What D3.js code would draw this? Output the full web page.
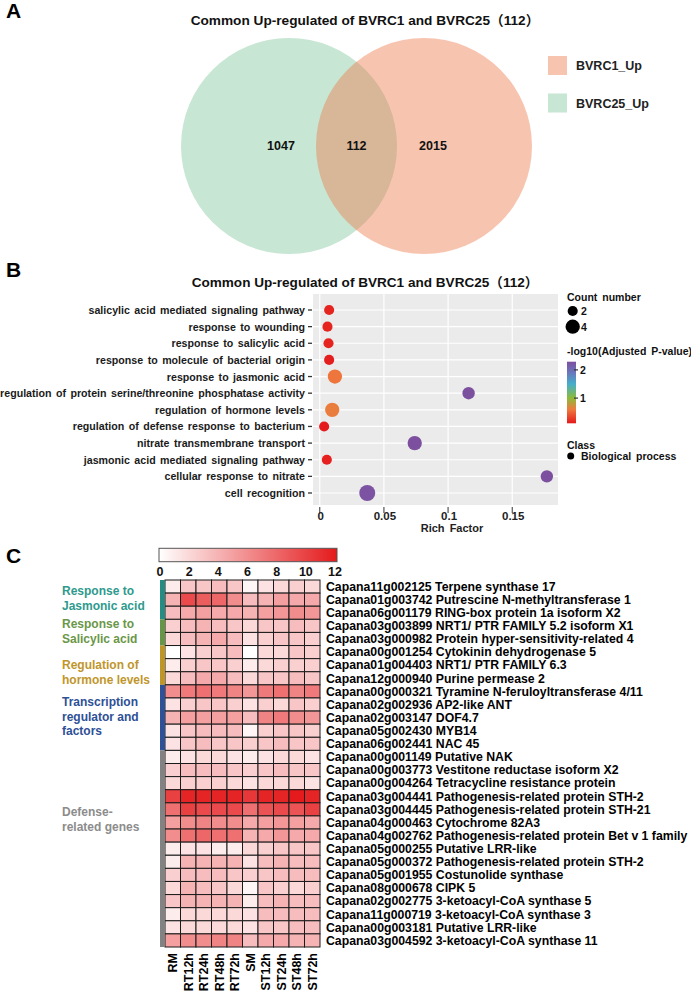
<!DOCTYPE html>
<html><head><meta charset="utf-8">
<script src="https://cdn.jsdelivr.net/npm/d3@7"></script>
<style>
body{margin:0;background:#fff}
svg{display:block}
text{font-family:"Liberation Sans",Arial,"Noto Sans CJK SC",sans-serif;font-weight:bold}
</style>
</head><body>
<svg id="fig" width="691" height="992" fill="#111"></svg>
<script>
// ---------------- DATA ----------------
const chartTitle = "Common Up-regulated of BVRC1 and BVRC25（112）";
// Venn
const vennSets = ["BVRC25_Up", "BVRC1_Up"];
const vennRegions = ["BVRC25 only", "both", "BVRC1 only"];
const vennValues = [1047, 112, 2015];
const legendSets = ["BVRC1_Up", "BVRC25_Up"];

// GO dot plot
const goTerms = [
  "salicylic acid mediated signaling pathway",
  "response to wounding",
  "response to salicylic acid",
  "response to molecule of bacterial origin",
  "response to jasmonic acid",
  "regulation of protein serine/threonine phosphatase activity",
  "regulation of hormone levels",
  "regulation of defense response to bacterium",
  "nitrate transmembrane transport",
  "jasmonic acid mediated signaling pathway",
  "cellular response to nitrate",
  "cell recognition"
];
const richFactor = [0.0073, 0.0060, 0.0068, 0.0073, 0.0118, 0.1160, 0.0097, 0.0034, 0.0740, 0.0055, 0.1770, 0.0370];
const geneCount  = [2, 2, 2, 2, 4, 3, 4, 2, 4, 2, 3, 5];
const negLog10P  = [0.16, 0.16, 0.16, 0.13, 0.58, 2.29, 0.62, 0.107, 2.29, 0.14, 2.29, 2.25];
const richTicks = [0, 0.05, 0.1, 0.15];
const countLegend = [2, 4];
const pTicks = [1, 2];
const className = "Biological process";

// Heatmap
const samples = ["RM","RT12h","RT24h","RT48h","RT72h","SM","ST12h","ST24h","ST48h","ST72h"];
const geneIds = ["Capana11g002125","Capana01g003742","Capana06g001179","Capana03g003899","Capana03g000982",
  "Capana00g001254","Capana01g004403","Capana12g000940","Capana00g000321","Capana02g002936","Capana02g003147",
  "Capana05g002430","Capana06g002441","Capana00g001149","Capana00g003773","Capana00g004264","Capana03g004441",
  "Capana03g004445","Capana04g000463","Capana04g002762","Capana05g000255","Capana05g000372","Capana05g001955",
  "Capana08g000678","Capana02g002775","Capana11g000719","Capana00g003181","Capana03g004592"];
const geneNames = ["Terpene synthase 17","Putrescine N-methyltransferase 1","RING-box protein 1a isoform X2",
  "NRT1/ PTR FAMILY 5.2 isoform X1","Protein hyper-sensitivity-related 4","Cytokinin dehydrogenase 5",
  "NRT1/ PTR FAMILY 6.3","Purine permease 2","Tyramine N-feruloyltransferase 4/11","AP2-like ANT","DOF4.7",
  "MYB14","NAC 45","Putative NAK","Vestitone reductase isoform X2","Tetracycline resistance protein",
  "Pathogenesis-related protein STH-2","Pathogenesis-related protein STH-21","Cytochrome 82A3",
  "Pathogenesis-related protein Bet v 1 family","Putative LRR-like","Pathogenesis-related protein STH-2",
  "Costunolide synthase","CIPK 5","3-ketoacyl-CoA synthase 5","3-ketoacyl-CoA synthase 3","Putative LRR-like",
  "3-ketoacyl-CoA synthase 11"];
const expr = [
  [1.0,3.0,3.0,3.5,3.0,0.5,1.5,2.0,2.5,2.0],
  [4.0,9.5,8.5,8.0,6.0,3.5,4.0,5.0,4.5,4.5],
  [3.5,4.5,5.0,4.5,4.5,4.0,5.0,5.5,6.0,5.5],
  [2.5,3.5,4.0,3.5,3.0,2.0,3.0,3.0,3.5,3.0],
  [2.0,3.5,4.0,4.5,3.5,1.5,2.5,3.0,3.0,2.5],
  [0.0,1.5,2.5,3.0,3.5,0.0,2.0,2.0,3.0,2.5],
  [1.0,2.5,3.0,3.0,2.5,1.0,2.0,2.5,2.5,2.5],
  [2.0,3.5,4.5,4.5,3.5,2.0,3.0,3.0,3.5,3.0],
  [6.0,7.0,7.5,7.0,6.5,5.5,7.0,7.5,6.5,7.0],
  [1.5,2.5,3.0,3.0,2.5,1.5,2.5,2.0,3.0,2.5],
  [4.0,5.0,5.0,5.0,5.0,3.5,6.5,7.0,6.0,5.5],
  [1.5,3.0,3.5,3.5,3.5,0.5,2.5,3.0,3.0,2.5],
  [1.5,3.0,3.5,3.0,3.0,2.5,3.0,3.5,3.0,3.0],
  [1.0,1.5,2.0,2.0,1.5,1.0,1.5,2.0,2.0,1.5],
  [2.5,3.5,3.5,3.5,3.0,2.5,3.0,3.5,3.0,3.0],
  [2.0,2.5,2.5,2.5,2.0,1.5,2.0,2.0,2.0,1.5],
  [10.0,11.5,11.5,11.5,11.5,10.5,11.5,11.5,12.0,11.5],
  [7.5,10.0,9.5,9.5,9.5,7.5,9.0,9.5,9.0,10.0],
  [5.0,6.0,6.5,6.0,6.0,4.5,5.0,5.5,5.0,4.5],
  [6.0,7.5,8.0,7.5,7.5,4.0,4.5,5.5,4.5,4.5],
  [1.0,1.5,1.5,1.0,1.0,2.0,2.5,3.0,3.0,3.0],
  [1.0,4.0,4.0,4.0,4.0,1.5,3.5,4.0,3.5,3.5],
  [2.5,3.5,3.5,3.5,3.0,2.5,3.0,3.5,3.5,3.5],
  [2.0,4.0,3.5,3.0,2.0,0.5,3.0,2.5,2.0,2.5],
  [3.0,4.0,4.0,4.0,4.0,1.0,3.5,4.0,3.5,3.5],
  [1.0,2.0,2.0,2.0,2.0,1.5,3.5,3.5,3.5,3.5],
  [1.5,2.0,2.0,2.0,2.0,1.5,3.0,3.0,3.5,3.5],
  [5.0,6.0,6.0,6.5,6.5,3.5,4.5,4.5,4.0,4.0]
];
const heatTicks = [0, 2, 4, 6, 8, 10, 12];
const groupLabels = [["Response to","Jasmonic acid"],["Response to","Salicylic acid"],["Regulation of","hormone levels"],
  ["Transcription","regulator and","factors"],["Defense-","related genes"]];
const groupSizes = [3, 2, 3, 5, 15];

// ---------------- DRAW ----------------
const svg = d3.select("#fig");

function fit(sel, target) {
  const w = d3.max(sel.nodes(), n => n.getComputedTextLength());
  const fs = parseFloat(sel.attr("font-size"));
  sel.attr("font-size", fs * target / w);
}

// panel letters
[["A", 18], ["B", 277], ["C", 563]].forEach(([t, y]) =>
  svg.append("text").attr("x", 6).attr("y", y).attr("font-size", 21).attr("fill", "#000").text(t));

// ===== Panel A: Venn =====
const tA = svg.append("text").attr("x", 365).attr("y", 25).attr("text-anchor", "middle")
  .attr("font-size", 13).text(chartTitle);
fit(tA, 349);

const vx = d3.scalePoint().domain(vennSets).range([289, 424]);
const vennFill = {"BVRC25_Up": "#C7E6D3", "BVRC1_Up": "rgba(238,124,80,0.45)"};
const vennCy = 146, vennR = 108;
svg.append("g").selectAll("circle").data(vennSets).join("circle")
  .attr("cx", d => vx(d)).attr("cy", vennCy).attr("r", vennR)
  .attr("fill", d => vennFill[d]);
const regionX = [vx(vennSets[0]) - 8, (vx(vennSets[0]) + vx(vennSets[1])) / 2, vx(vennSets[1]) + 9];
svg.append("g").selectAll("text").data(vennValues).join("text")
  .attr("x", (d, i) => regionX[i]).attr("y", vennCy + 4).attr("text-anchor", "middle")
  .attr("font-size", 12.5).text(d => d);

const legFill = {"BVRC1_Up": "#F7C4B0", "BVRC25_Up": "#C7E6D3"};
const ly = d3.scalePoint().domain(legendSets).range([56, 93.5]);
svg.append("g").selectAll("rect").data(legendSets).join("rect")
  .attr("x", 548).attr("y", d => ly(d)).attr("width", 19).attr("height", 19).attr("fill", d => legFill[d]);
svg.append("g").selectAll("text").data(legendSets).join("text")
  .attr("x", 576).attr("y", d => ly(d) + 14).attr("font-size", 12.5).attr("fill", "#222").text(d => d);

// ===== Panel B: GO dot plot =====
const tB = svg.append("text").attr("x", 365).attr("y", 287).attr("text-anchor", "middle")
  .attr("font-size", 13).text(chartTitle);
fit(tB, 347);

const ext = d3.extent(richFactor);
const pad = (ext[1] - ext[0]) * 0.05;
const px0 = 313, px1 = 558, pyTop = 294, pyBot = 505;
const xB = d3.scaleLinear().domain([ext[0] - pad, ext[1] + pad]).range([px0, px1]);
const yB = d3.scalePoint().domain(goTerms).range([310, 493]);
const rB = d3.scaleSqrt().domain([0, 5]).range([0, 8]);
const pDom = [0.107, 2.29];
const cStops = [0.107, 0.6, 1.0, 1.5, 1.9, 2.29];
const cCols = ["#E41A1C", "#EE7A3E", "#8DBB3A", "#45AECB", "#6977BB", "#7D4F9F"];
const cB = d3.scaleLinear().domain(cStops).range(cCols);

const gB = svg.append("g");
gB.append("rect").attr("x", px0).attr("y", pyTop).attr("width", px1 - px0).attr("height", pyBot - pyTop).attr("fill", "#EBEBEB");
gB.selectAll("line.h").data(goTerms).join("line").attr("class", "h")
  .attr("x1", px0).attr("x2", px1).attr("y1", d => yB(d)).attr("y2", d => yB(d))
  .attr("stroke", "#fff").attr("stroke-width", 1.2);
gB.selectAll("line.v").data(richTicks).join("line").attr("class", "v")
  .attr("x1", d => xB(d)).attr("x2", d => xB(d)).attr("y1", pyTop).attr("y2", pyBot)
  .attr("stroke", "#fff").attr("stroke-width", 1.2);

const rows = goTerms.map((t, i) => ({t, rf: richFactor[i], n: geneCount[i], p: negLog10P[i]}));
gB.selectAll("circle").data(rows).join("circle")
  .attr("cx", d => xB(d.rf)).attr("cy", d => yB(d.t)).attr("r", d => rB(d.n))
  .attr("fill", d => cB(d.p));

// y axis labels
const yl = gB.selectAll("text.yl").data(goTerms).join("text").attr("class", "yl")
  .attr("x", 305).attr("y", d => yB(d) + 4).attr("text-anchor", "end").attr("font-size", 11)
  .attr("fill", "#1a1a1a").attr("word-spacing", "1.5px").text(d => d);
fit(yl, 305);
gB.selectAll("line.yt").data(goTerms).join("line").attr("class", "yt")
  .attr("x1", 308).attr("x2", 312).attr("y1", d => yB(d)).attr("y2", d => yB(d))
  .attr("stroke", "#333").attr("stroke-width", 1.3);
// x axis
gB.selectAll("line.xt").data(richTicks).join("line").attr("class", "xt")
  .attr("x1", d => xB(d)).attr("x2", d => xB(d)).attr("y1", 507).attr("y2", 513)
  .attr("stroke", "#333").attr("stroke-width", 1);
gB.selectAll("text.xl").data(richTicks).join("text").attr("class", "xl")
  .attr("x", d => xB(d) + 1).attr("y", 520).attr("text-anchor", "middle").attr("font-size", 11.5)
  .attr("fill", "#222").text(d => d3.format("")(d));
gB.append("text").attr("x", 452).attr("y", 532).attr("text-anchor", "middle").attr("font-size", 11)
  .attr("fill", "#222").attr("word-spacing", "2px").text("Rich Factor");

// legends B
const lgB = svg.append("g");
lgB.append("text").attr("x", 567).attr("y", 301).attr("font-size", 10.5).attr("word-spacing", "2px").text("Count number");
const cly = d3.scalePoint().domain(countLegend).range([311, 326.7]);
lgB.selectAll("circle.cl").data(countLegend).join("circle").attr("class", "cl")
  .attr("cx", 572.7).attr("cy", d => cly(d)).attr("r", d => rB(d)).attr("fill", "#000");
lgB.selectAll("text.cl").data(countLegend).join("text").attr("class", "cl")
  .attr("x", 581).attr("y", d => cly(d) + 4).attr("font-size", 10.5).text(d => d);

lgB.append("text").attr("x", 567).attr("y", 355).attr("font-size", 10.5).attr("word-spacing", "2px").text("-log10(Adjusted P-value)");
const barY = d3.scaleLinear().domain(pDom).range([423.3, 361.7]);
const grad = svg.append("defs").append("linearGradient").attr("id", "pgrad")
  .attr("x1", 0).attr("y1", 1).attr("x2", 0).attr("y2", 0);
grad.selectAll("stop").data(cStops).join("stop")
  .attr("offset", d => (d - pDom[0]) / (pDom[1] - pDom[0]))
  .attr("stop-color", d => cB(d));
lgB.append("rect").attr("x", 567).attr("y", barY(pDom[1])).attr("width", 9)
  .attr("height", barY(pDom[0]) - barY(pDom[1])).attr("fill", "url(#pgrad)");
lgB.selectAll("line.pt").data(pTicks).join("line").attr("class", "pt")
  .attr("x1", 574).attr("x2", 578).attr("y1", d => barY(d)).attr("y2", d => barY(d))
  .attr("stroke", "#333").attr("stroke-width", 1.2);
lgB.selectAll("text.pt").data(pTicks).join("text").attr("class", "pt")
  .attr("x", 580).attr("y", d => barY(d) + 4).attr("font-size", 10.5).text(d => d);

lgB.append("text").attr("x", 567).attr("y", 449).attr("font-size", 10.5).text("Class");
lgB.append("circle").attr("cx", 570.7).attr("cy", 456).attr("r", 3.5).attr("fill", "#000");
lgB.append("text").attr("x", 581).attr("y", 460).attr("font-size", 10.5).attr("word-spacing", "2px").text(className);

// ===== Panel C: heatmap =====
const hx = d3.scaleBand().domain(samples).range([165, 320]);
const genes = geneIds.map((g, i) => g + " " + geneNames[i]);
const hy = d3.scaleBand().domain(d3.range(genes.length)).range([580, 947]);
const heat = d3.scaleLinear().domain([0, 12]).range(["#FFFFFF", "#E41A1C"]);

// colour bar
const cbx = d3.scaleLinear().domain([0, 12]).range([160, 335]);
const hgrad = svg.select("defs").append("linearGradient").attr("id", "hgrad");
hgrad.selectAll("stop").data([0, 12]).join("stop")
  .attr("offset", d => d / 12).attr("stop-color", d => heat(d));
svg.append("rect").attr("x", 159).attr("y", 548.3).attr("width", 178).attr("height", 13.4)
  .attr("fill", "url(#hgrad)").attr("stroke", "#555").attr("stroke-width", 1);
svg.append("g").selectAll("text").data(heatTicks).join("text")
  .attr("x", d => cbx(d)).attr("y", 576).attr("text-anchor", "middle").attr("font-size", 12.5).text(d => d);

const cells = [];
expr.forEach((row, i) => row.forEach((v, j) => cells.push({i, s: samples[j], v})));
svg.append("g").selectAll("rect").data(cells).join("rect")
  .attr("x", d => hx(d.s)).attr("y", d => hy(d.i)).attr("width", hx.bandwidth()).attr("height", hy.bandwidth())
  .attr("fill", d => heat(d.v)).attr("stroke", "#1a1a1a").attr("stroke-width", 1);

// group side bar
const groupColors = ["#268C82", "#679547", "#BE9628", "#2D5096", "#828282"];
const textColors = ["#2E9A8D", "#6A9748", "#BF962C", "#2E5096", "#8C8C8C"];
let start = 0;
const groups = groupSizes.map((n, k) => { const g = {k, s: start, n}; start += n; return g; });
svg.append("g").selectAll("rect").data(groups).join("rect")
  .attr("x", 160).attr("width", 5).attr("y", d => hy(d.s)).attr("height", d => hy.step() * d.n)
  .attr("fill", d => groupColors[d.k]);
const groupBase = [595, 628, 669, 706, 816];
groupLabels.forEach((lines, k) => {
  const t = svg.append("text").attr("x", 62).attr("y", groupBase[k]).attr("font-size", 12).attr("fill", textColors[k]);
  lines.forEach((ln, m) => t.append("tspan").attr("x", 62).attr("dy", m === 0 ? 0 : 14.6).text(ln));
});

// row labels
const rl = svg.append("g").selectAll("text").data(genes).join("text")
  .attr("x", 326).attr("y", (d, i) => hy(i) + hy.bandwidth() / 2 + 4.3).attr("font-size", 12).attr("fill", "#000").text(d => d);
fit(rl, 362);

// column labels
svg.append("g").selectAll("text").data(samples).join("text")
  .attr("transform", d => `translate(${hx(d) + hx.bandwidth() / 2 + 4.5},953) rotate(-90)`)
  .attr("text-anchor", "end").attr("font-size", 12.5).attr("fill", "#000").text(d => d);
</script>
</body></html>
